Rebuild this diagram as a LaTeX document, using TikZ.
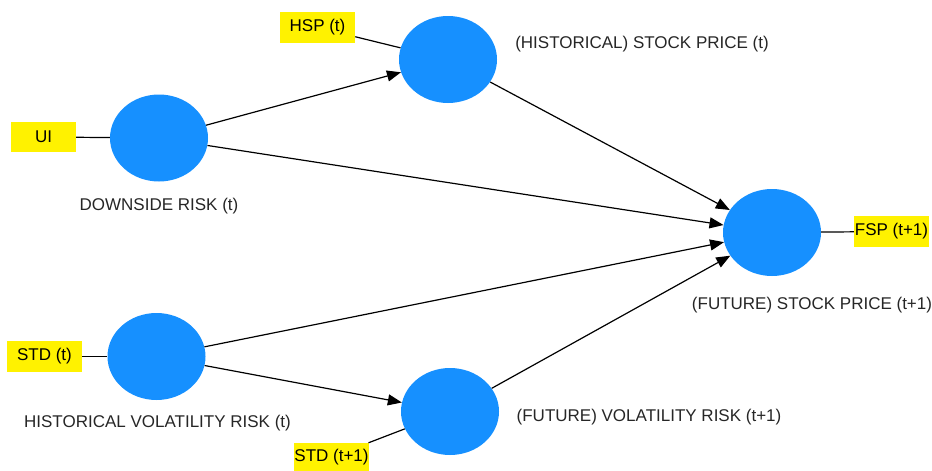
\documentclass[tikz,border=0pt]{standalone}
\usepackage{fontspec}
\setmainfont{Liberation Sans}
\usetikzlibrary{shapes.geometric,arrows.meta}
\definecolor{lvblue}{RGB}{22,144,255}
\begin{document}
\begin{tikzpicture}[x=1pt,y=-1pt,
    latent/.style={ellipse,fill=lvblue,minimum width=98pt,minimum height=87pt,inner sep=0pt},
    indicator/.style={fill=yellow,minimum width=75pt,minimum height=31pt,inner sep=0pt,font=\fontsize{17}{20}\selectfont},
    lbl/.style={font=\fontsize{17}{20}\selectfont,text=black!85},
    path/.style={-{Triangle[length=14pt,width=11pt]},line width=1.2pt},
    link/.style={line width=1.2pt}]
  \useasboundingbox (0,0) rectangle (932,471);
  % latent variables
  \node[latent] (dr) at (159,138) {};
  \node[latent] (hsp) at (448,59.5) {};
  \node[latent] (hvr) at (156.5,356.5) {};
  \node[latent] (fvr) at (450,411.5) {};
  \node[latent] (fsp) at (772,232.5) {};
  % names
  \node[lbl] (drl) at (159,206) {DOWNSIDE RISK (t)};
  \node[lbl] (hspl) at (642,44) {(HISTORICAL) STOCK PRICE (t)};
  \node[lbl] (hvrl) at (157.5,423) {HISTORICAL VOLATILITY RISK (t)};
  \node[lbl] (fvrl) at (649,417) {(FUTURE) VOLATILITY RISK (t+1)};
  \node[lbl] (fspl) at (812,305) {(FUTURE) STOCK PRICE (t+1)};
  % indicators
  \node[indicator,minimum width=65pt,minimum height=30pt] (ui) at (43.5,137) {UI};
  \node[indicator] (hspi) at (317.5,27.5) {HSP (t)};
  \node[indicator] (stdt) at (44.5,356.5) {STD (t)};
  \node[indicator,minimum height=28pt] (stdn) at (331.5,457) {STD (t+1)};
  \node[indicator] (fspi) at (891.5,231.5) {FSP (t+1)};
  \draw[link] (ui) -- (dr);
  \draw[link] (hspi) -- (hsp);
  \draw[link] (stdt) -- (hvr);
  \draw[link] (stdn) -- (fvr);
  \draw[link] (fsp) -- (fspi);
  % paths
  \draw[path] (dr) -- (hsp);
  \draw[path] (dr) -- (fsp);
  \draw[path] (hsp) -- (fsp);
  \draw[path] (hvr) -- (fsp);
  \draw[path] (hvr) -- (fvr);
  \draw[path] (fvr) -- (fsp);
\end{tikzpicture}
\end{document}
